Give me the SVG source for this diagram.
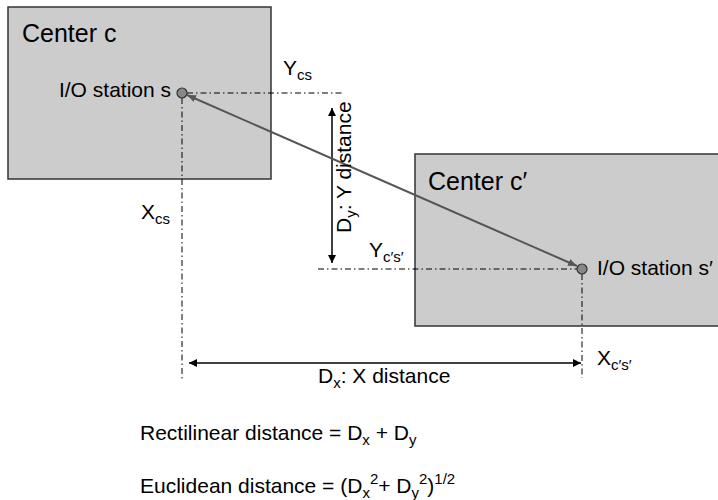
<svg xmlns="http://www.w3.org/2000/svg" width="718" height="500" viewBox="0 0 718 500">
<defs>
<style>
text{font-family:"Liberation Sans",Arial,sans-serif;fill:#000;}
.big{font-size:25px;}
.lbl{font-size:21px;}
.sub{font-size:15px;}
.box{fill:#cccccc;stroke:#333;stroke-width:1.5;}
.stn{fill:#888;stroke:#333;stroke-width:1.2;}
.dd{stroke:#000;stroke-width:1;stroke-dasharray:6 3 1.5 3;fill:none;}
.arr{stroke:#000;stroke-width:1.5;fill:none;marker-start:url(#ab);marker-end:url(#ab);}
.euc{stroke:#555;stroke-width:2;fill:none;marker-start:url(#ag);marker-end:url(#ag);}
</style>
<marker id="ab" viewBox="0 0 10 10" refX="10" refY="5" markerWidth="8" markerHeight="8" orient="auto-start-reverse" markerUnits="userSpaceOnUse"><path d="M0,0L10,5L0,10z" fill="#000"/></marker>
<marker id="ag" viewBox="0 0 10 10" refX="10" refY="5" markerWidth="9" markerHeight="9" orient="auto-start-reverse" markerUnits="userSpaceOnUse"><path d="M0,1L10,5L0,9z" fill="#555"/></marker>
</defs>
<rect width="718" height="500" fill="#fff"/>
<g id="center-c">
<rect class="box" x="8" y="7" width="263" height="172"/>
<text class="big" x="22" y="42">Center c</text>
</g>
<g id="center-c-prime">
<rect class="box" x="415" y="154" width="310" height="172"/>
<text class="big" x="428" y="190">Center c′</text>
</g>
<g id="connectors">
<path class="dd" d="M187,93H342"/>
<path class="dd" d="M182,98V380"/>
<path class="dd" d="M318,269H577"/>
<path class="dd" d="M582,274V378"/>
<path class="arr" d="M332,108V263"/>
<path class="arr" d="M189,363H581"/>
<path class="euc" d="M187,95L577,266"/>
</g>
<g id="station-s">
<circle class="stn" cx="182" cy="93" r="5"/>
<text class="lbl" x="171" y="97" text-anchor="end">I/O station s</text>
</g>
<g id="station-s-prime">
<circle class="stn" cx="582" cy="269" r="5"/>
<text class="lbl" x="597" y="275">I/O station s′</text>
</g>
<g id="labels">
<text class="lbl" x="283" y="75">Y<tspan class="sub" dy="5">cs</tspan></text>
<text class="lbl" x="369" y="257">Y<tspan class="sub" dy="5">c′s′</tspan></text>
<text class="lbl" x="141" y="219">X<tspan class="sub" dy="5">cs</tspan></text>
<text class="lbl" x="597" y="365">X<tspan class="sub" dy="5">c′s′</tspan></text>
<text class="lbl" x="318" y="383">D<tspan class="sub" dy="5">x</tspan><tspan dy="-5">: X distance</tspan></text>
<text class="lbl" transform="translate(351,233) rotate(-90)">D<tspan class="sub" dy="5">y</tspan><tspan dy="-5">: Y distance</tspan></text>
<text class="lbl" x="140" y="440">Rectilinear distance = D<tspan class="sub" dy="5">x</tspan><tspan dy="-5"> + D</tspan><tspan class="sub" dy="5">y</tspan></text>
<text class="lbl" x="140" y="493">Euclidean distance = (D<tspan class="sub" dy="5">x</tspan><tspan class="sub" dy="-14">2</tspan><tspan dy="9">+ D</tspan><tspan class="sub" dy="5">y</tspan><tspan class="sub" dy="-14">2</tspan><tspan dy="9">)</tspan><tspan class="sub" dy="-9">1/2</tspan></text>
</g>
</svg>
